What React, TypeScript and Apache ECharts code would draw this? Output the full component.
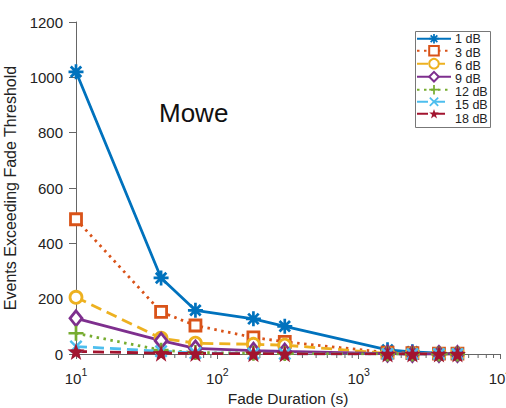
import React, { useEffect, useRef } from "react";
import * as echarts from "echarts";

const durations = [10, 40, 70, 180, 300, 1600, 2400, 3700, 5000];
const seriesNames = ["1 dB", "3 dB", "6 dB", "9 dB", "12 dB", "15 dB", "18 dB"];
const v1dB = [1020, 275, 158, 127, 100, 15, 8, 3, 2];
const v3dB = [487, 152, 103, 60, 44, 5, 3, 1, 1];
const v6dB = [205, 57, 39, 35, 32, 2, 1, 0, 0];
const v9dB = [129, 48, 20, 12, 9, 1, 0, 0, 0];
const v12dB = [75, 14, 5, 3, 2, 0, 0, 0, 0];
const v15dB = [27, 10, 4, 2, 1, 0, 0, 0, 0];
const v18dB = [9, 3, 2, 1, 1, 0, 0, 0, 0];
const minorTickValues = [20, 30, 40, 50, 60, 70, 80, 90, 200, 300, 400, 500, 600, 700, 800, 900, 2000, 3000, 4000, 5000, 6000, 7000, 8000, 9000];
const yTicks = [0, 200, 400, 600, 800, 1000, 1200];

const FONT = "'Liberation Sans', Arial, Helvetica, sans-serif";

const ASTERISK =
  "path://M0 8.2H20V11.8H0Z M8.2 0H11.8V20H8.2Z M4.3 1.7L18.3 15.7L15.7 18.3L1.7 4.3Z M15.7 1.7L18.3 4.3L4.3 18.3L1.7 15.7Z";
const PLUS = "path://M0 8.2H20V11.8H0Z M8.2 0H11.8V20H8.2Z";
const XMARK = "path://M3.2 0.8L19.2 16.8L16.8 19.2L0.8 3.2Z M16.8 0.8L19.2 3.2L3.2 19.2L0.8 16.8Z";
const STAR =
  "path://M10 0L12.35 6.76L19.51 6.91L13.8 11.24L15.88 18.09L10 14L4.12 18.09L6.2 11.24L0.49 6.91L7.65 6.76Z";

const LEGEND_TOP = 32.7;
const LEGEND_ROW = 13.2;

function mk(name: string, values: number[], color: string, symbol: string, size: number | number[], lineType: any, hollow: boolean) {
  return {
    name,
    type: "line",
    data: durations.map((d, i) => [d, values[i]]),
    symbol,
    symbolSize: size,
    showSymbol: true,
    lineStyle: { color, width: 2.8, type: lineType },
    itemStyle: hollow
      ? { color: "#ffffff", borderColor: color, borderWidth: 2.8 }
      : { color, borderWidth: 0 },
    emphasis: { disabled: true },
    z: 3,
  };
}

export default function App() {
  const ref = useRef<HTMLDivElement>(null);
  useEffect(() => {
    if (!ref.current) return;
    const chart = echarts.init(ref.current, undefined, { renderer: "svg" });
    const legendTexts = seriesNames.map((n, i) => ({
      type: "text",
      z: 11,
      x: 455,
      y: LEGEND_TOP + LEGEND_ROW / 2 + i * LEGEND_ROW,
      style: {
        text: n,
        fontSize: 12.5,
        fontFamily: FONT,
        fill: "#222",
        align: "left",
        verticalAlign: "middle",
      },
    }));
    const option: any = {
      animation: false,
      textStyle: { fontFamily: FONT },
      grid: { left: 76, right: 6, top: 22, bottom: 54, outerBoundsMode: "none", containLabel: false },
      legend: {
        data: seriesNames,
        orient: "vertical",
        align: "left",
        left: 416,
        top: LEGEND_TOP,
        z: 10,
        padding: 0,
        itemGap: 1.2,
        itemWidth: 34,
        itemHeight: 12,
        formatter: () => "",
        selectedMode: false,
      },
      xAxis: {
        type: "log",
        logBase: 10,
        min: 10,
        max: 10000,
        name: "Fade Duration (s)",
        nameLocation: "middle",
        nameGap: 34,
        nameTextStyle: { fontSize: 15.5, color: "#222", fontFamily: FONT },
        axisLine: { lineStyle: { color: "#666", width: 1 } },
        axisTick: { show: true, length: 5, lineStyle: { color: "#666" } },
        splitLine: { show: false },
        axisLabel: {
          margin: 12,
          color: "#222",
          fontFamily: FONT,
          hideOverlap: false,
          formatter: (v: number) => `{b|10}{s|${Math.round(Math.log10(v))}}`,
          rich: {
            b: { fontSize: 15, color: "#222", fontFamily: FONT, verticalAlign: "bottom" },
            s: { fontSize: 10.5, color: "#222", fontFamily: FONT, verticalAlign: "top", padding: [0, 0, 9, 0] },
          },
        },
      },
      yAxis: {
        type: "value",
        min: 0,
        max: 1200,
        interval: 200,
        name: "Events Exceeding Fade Threshold",
        nameLocation: "middle",
        nameGap: 47,
        nameTextStyle: { fontSize: 16, color: "#222", fontFamily: FONT },
        axisLine: { show: true, lineStyle: { color: "#666", width: 1 } },
        axisTick: { show: true, length: 7, lineStyle: { color: "#666" } },
        splitLine: { show: false },
        axisLabel: {
          margin: 13,
          fontSize: 15,
          color: "#222",
          fontFamily: FONT,
          formatter: (v: number) => (yTicks.indexOf(v) >= 0 ? String(v) : ""),
        },
      },
      graphic: [
        {
          type: "rect",
          z: 5,
          shape: { x: 415.5, y: 31.5, width: 75, height: 96 },
          style: { fill: "#ffffff", stroke: "#777777", lineWidth: 1 },
        },
        ...legendTexts,
        {
          type: "text",
          left: 159,
          top: 100,
          style: { text: "Mowe", fontSize: 26, fontFamily: FONT, fill: "#111" },
        },
      ],
      series: [
        {
          name: "minor-ticks",
          type: "custom",
          silent: true,
          data: minorTickValues.map((v) => [v, 0]),
          encode: { x: 0, y: 1 },
          renderItem: (params: any, api: any) => {
            const p = api.coord([api.value(0), 0]);
            return {
              type: "line",
              shape: { x1: p[0], y1: p[1], x2: p[0], y2: p[1] + 4 },
              style: { stroke: "#666", lineWidth: 1 },
            };
          },
          z: 1,
        },
        mk(seriesNames[0], v1dB, "#0072BD", ASTERISK, 15, "solid", false),
        mk(seriesNames[1], v3dB, "#D95319", "rect", 11, [2.5, 4.5], true),
        mk(seriesNames[2], v6dB, "#EDB120", "circle", 12, [11, 6], true),
        mk(seriesNames[3], v9dB, "#7E2F8E", "diamond", [12, 15], "solid", true),
        mk(seriesNames[4], v12dB, "#77AC30", PLUS, 15, [2.5, 4.5], false),
        mk(seriesNames[5], v15dB, "#4DBEEE", XMARK, 13, [11, 6], false),
        mk(seriesNames[6], v18dB, "#A2142F", STAR, 17, [11, 6], false),
      ],
    };
    chart.setOption(option);
    return () => chart.dispose();
  }, []);
  return (
    <div
      ref={ref}
      style={{ position: "absolute", left: 0, top: 0, width: 506, height: 408 }}
    />
  );
}
